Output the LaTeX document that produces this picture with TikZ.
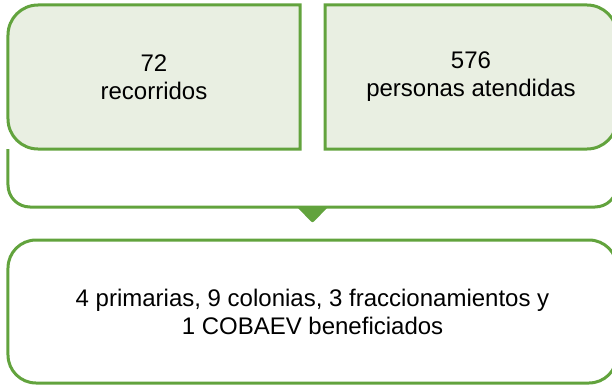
\documentclass[tikz,border=0pt]{standalone}
\usepackage{fontspec}
\setmainfont{Liberation Sans}
\usetikzlibrary{positioning,calc}
\definecolor{ink}{HTML}{000000}
\definecolor{leaf}{HTML}{62A33D}
\definecolor{leafpale}{HTML}{E9EFE2}
\definecolor{card}{HTML}{FFFFFF}

\begin{document}
\begin{tikzpicture}[x=1bp, y=1bp,
      node distance=25bp,
      txt/.style={inner sep=0pt, outer sep=0pt, align=center, text=ink, font=\fontsize{24bp}{28bp}\selectfont},
      tile/.style={txt, minimum width=292bp, minimum height=144bp},
      outline/.style={draw=leaf, line width=3bp},
      result/.style={txt, outline, fill=card, rounded corners=28bp, minimum width=609bp, minimum height=143bp}]
    \useasboundingbox (0,0) rectangle (612,384);
    \node[tile] (rec) at (154,307) {72\\recorridos};
    \node[tile, right=of rec] (per) {576\\personas atendidas};
    \node[result] (ben) at (312.5,72.5) {4 primarias, 9 colonias, 3 fraccionamientos y\\1 COBAEV beneficiados};
    % left tile, round on the left side
    \path[outline, fill=leafpale] (rec.north east) -- ([xshift=30bp]rec.north west)
      arc[start angle=90, end angle=180, radius=30bp] -- ([yshift=30bp]rec.south west)
      arc[start angle=180, end angle=270, radius=30bp] -- (rec.south east) -- cycle;
    % right tile, round on the right side
    \path[outline, fill=leafpale] (per.north west) -- ([xshift=-30bp]per.north east)
      arc[start angle=90, end angle=0, radius=30bp] -- ([yshift=30bp]per.south east)
      arc[start angle=0, end angle=-90, radius=30bp] -- (per.south west) -- cycle;
    \node[txt] at (rec) {72\\recorridos};
    \node[txt] at (per) {576\\personas atendidas};
    % bracket under both tiles and the pointer
    \coordinate (base) at ($(rec.south east)!0.5!(per.south west)+(0,-58)$);
    \draw[outline, rounded corners=22bp] (rec.south west) -- (rec.south west |- base)
      -- (per.south east |- base) -- (per.south east);
    \fill[leaf, rounded corners=2bp] ($(base)+(-15.5,0)$) -- ($(base)+(15.5,0)$) -- ($(base)+(0,-16)$) -- cycle;
  \end{tikzpicture}
\end{document}
